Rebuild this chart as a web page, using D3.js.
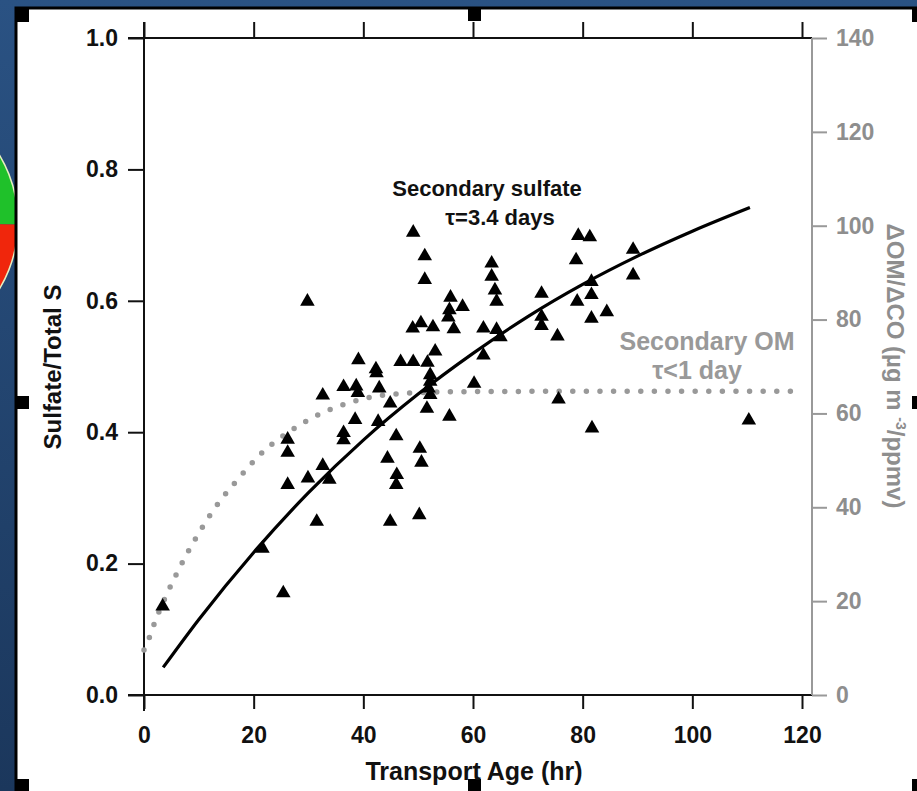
<!DOCTYPE html>
<html>
<head>
<meta charset="utf-8">
<script src="https://cdn.jsdelivr.net/npm/d3@7"></script>
<style>
  html, body { margin: 0; padding: 0; background: #25497a; }
  svg { display: block; font-family: "Liberation Sans", Arial, sans-serif; }
</style>
</head>
<body>
<div id="chart"></div>
<script>
// measured points: transport age (hr) vs sulfate / total S
var ageHr = [3.4, 21.6, 25.4, 26.2, 26.2, 26.2, 29.8, 29.9, 31.5, 32.6, 32.6, 33.8, 36.4, 36.4, 36.4,
  38.5, 38.7, 39.0, 39.1, 42.3, 42.4, 42.7, 42.9, 44.4, 44.9, 44.9, 46.0, 46.1, 46.0, 46.8,
  49.0, 49.1, 49.1, 50.2, 50.3, 50.5, 50.6, 51.2, 51.2, 51.6, 51.7, 51.9, 52.2, 52.2, 52.2,
  52.7, 53.1, 55.5, 55.7, 55.7, 55.9, 56.5, 58.1, 60.2, 61.9, 61.9, 63.4, 63.4, 64.0, 64.3,
  64.3, 65.0, 72.5, 72.5, 72.5, 75.4, 75.6, 78.8, 79.0, 79.2, 81.3, 81.6, 81.6, 81.6, 81.7,
  84.4, 89.2, 89.2, 110.3];
var sulfateFrac = [0.135, 0.223, 0.155, 0.389, 0.369, 0.320, 0.599, 0.330, 0.264, 0.456, 0.349, 0.328, 0.469, 0.399, 0.388,
  0.419, 0.470, 0.460, 0.510, 0.496, 0.490, 0.416, 0.467, 0.360, 0.444, 0.264, 0.394, 0.335, 0.320, 0.507,
  0.558, 0.704, 0.507, 0.274, 0.375, 0.566, 0.354, 0.668, 0.632, 0.436, 0.506, 0.467, 0.487, 0.477, 0.457,
  0.560, 0.523, 0.575, 0.586, 0.424, 0.605, 0.557, 0.591, 0.474, 0.558, 0.517, 0.657, 0.637, 0.616, 0.599,
  0.556, 0.545, 0.611, 0.576, 0.562, 0.546, 0.450, 0.662, 0.599, 0.699, 0.697, 0.629, 0.609, 0.573, 0.406,
  0.583, 0.678, 0.639, 0.418];

// secondary sulfate fit line (tau = 3.4 days)
var sulfFitAge = [3.5, 10, 20, 30, 40, 50, 60, 70, 80, 90, 100, 110.5];
var sulfFitFrac = [0.042, 0.115, 0.217, 0.308, 0.388, 0.458, 0.52, 0.576, 0.625, 0.668, 0.706, 0.742];

// secondary OM curve (right axis)
var omFitAge = [0, 1.1, 2, 4.25, 6.75, 9.6, 12.9, 17, 21.7, 27, 32.1, 37.2, 42.5, 48, 55, 70, 90, 118.5];
var omFitRatio = [9.6, 12.6, 15.6, 21.7, 27.7, 33.7, 39.8, 45.8, 51.8, 56.5, 59.9, 62.2, 63.7, 64.3, 64.6, 64.7, 64.7, 64.7];

// tick labels
var xTicks = [0, 20, 40, 60, 80, 100, 120];
var yTicks = [0, 0.2, 0.4, 0.6, 0.8, 1.0];
var y2Ticks = [0, 20, 40, 60, 80, 100, 120, 140];

var W = 917, H = 791;

var svg = d3.select("#chart").append("svg")
    .attr("width", W)
    .attr("height", H);

// slide background (blue frame + slightly darker left edge)
var defs = svg.append("defs");
var grad = defs.append("linearGradient").attr("id", "bg").attr("x1", 0).attr("y1", 0).attr("x2", 0).attr("y2", 1);
grad.append("stop").attr("offset", "0%").attr("stop-color", "#2a5283");
grad.append("stop").attr("offset", "100%").attr("stop-color", "#1b375c");
svg.append("rect").attr("width", W).attr("height", H).attr("fill", "url(#bg)");

// bit of the pie chart peeking in at the left
var pie = svg.append("g").attr("transform", "translate(-112,222)");
var arc = d3.arc().innerRadius(0).outerRadius(130);
pie.append("path").attr("d", arc({startAngle: 0, endAngle: Math.PI / 2 + 0.02})).attr("fill", "#1fc12a");
pie.append("path").attr("d", arc({startAngle: Math.PI / 2 + 0.02, endAngle: Math.PI})).attr("fill", "#f0260c");
pie.append("circle").attr("r", 130).attr("fill", "none").attr("stroke", "#e8f0c0").attr("stroke-width", 1.5);

// white picture panel with its black edge
svg.append("rect").attr("x", 16).attr("y", 8).attr("width", W).attr("height", H)
    .attr("fill", "#fff").attr("stroke", "#000").attr("stroke-width", 3);

// selection handles
var handles = [[16, 9], [468, 8], [16, 396], [16, 779], [468, 779], [912, 9], [912, 396], [912, 779]];
svg.selectAll(".handle").data(handles).enter().append("rect")
    .attr("class", "handle")
    .attr("x", function(d) { return d[0]; })
    .attr("y", function(d) { return d[1]; })
    .attr("width", 13).attr("height", 13)
    .attr("fill", "#000");

// scales
var x = d3.scaleLinear().domain([0, 120]).range([144, 802]);
var y = d3.scaleLinear().domain([0, 1]).range([695, 38]);
var y2 = d3.scaleLinear().domain([0, 140]).range([695, 38]);
var xEnd = 812;

var black = "#111", gray = "#999";

// bottom axis
var gx = svg.append("g").attr("transform", "translate(0,695)")
    .call(d3.axisBottom(x).tickValues(xTicks).tickSize(14).tickPadding(18).tickFormat(d3.format("d")));
gx.select(".domain").attr("d", "M128,0H" + xEnd);

// top axis, ticks only
var gt = svg.append("g").attr("transform", "translate(0,38)")
    .call(d3.axisTop(x).tickValues(xTicks).tickSize(16).tickFormat(""));
gt.select(".domain").attr("d", "M128,0H" + xEnd);

// left axis
var gy = svg.append("g").attr("transform", "translate(144,0)")
    .call(d3.axisLeft(y).tickValues(yTicks).tickSize(16).tickPadding(10).tickFormat(d3.format(".1f")));
gy.select(".domain").attr("d", "M0,22V711");

[gx, gt, gy].forEach(function(g) {
  g.selectAll("path, line").attr("stroke", black).attr("stroke-width", 2);
  g.selectAll("text").attr("fill", black).style("font-size", "23px").style("font-weight", "bold");
});

// right axis (grey, for the OM curve)
var gr = svg.append("g").attr("transform", "translate(" + xEnd + ",0)")
    .call(d3.axisRight(y2).tickValues(y2Ticks).tickSize(15).tickPadding(9));
gr.select(".domain").attr("d", "M0,38V695");
gr.selectAll("path, line").attr("stroke", gray).attr("stroke-width", 2);
gr.selectAll("text").attr("fill", "#8e8e8e").style("font-size", "23px").style("font-weight", "bold");

// axis titles
svg.append("text")
    .attr("transform", "translate(61,367) rotate(-90)")
    .attr("text-anchor", "middle")
    .style("font-size", "24px").style("font-weight", "bold").attr("fill", black)
    .text("Sulfate/Total S");

svg.append("text")
    .attr("x", 474).attr("y", 780)
    .attr("text-anchor", "middle")
    .style("font-size", "25px").style("font-weight", "bold").attr("fill", black)
    .text("Transport Age (hr)");

var rTitle = svg.append("text")
    .attr("transform", "translate(887,366) rotate(90)")
    .attr("text-anchor", "middle")
    .style("font-size", "24px").style("font-weight", "bold").attr("fill", "#8e8e8e");
rTitle.append("tspan").text("\u0394OM/\u0394CO (\u00b5g m ");
rTitle.append("tspan").attr("dy", -9).style("font-size", "14px").text("-3");
rTitle.append("tspan").attr("dy", 9).text("/ppmv)");

// secondary OM curve, dotted
var omLine = d3.line()
    .x(function(d) { return x(d[0]); })
    .y(function(d) { return y2(d[1]); })
    .curve(d3.curveMonotoneX);
svg.append("path")
    .datum(d3.zip(omFitAge, omFitRatio))
    .attr("d", omLine)
    .attr("fill", "none")
    .attr("stroke", gray)
    .attr("stroke-width", 5.5)
    .attr("stroke-linecap", "round")
    .attr("stroke-dasharray", "0 13.6");

// secondary sulfate fit
var sLine = d3.line()
    .x(function(d) { return x(d[0]); })
    .y(function(d) { return y(d[1]); })
    .curve(d3.curveMonotoneX);
svg.append("path")
    .datum(d3.zip(sulfFitAge, sulfFitFrac))
    .attr("d", sLine)
    .attr("fill", "none")
    .attr("stroke", "#000")
    .attr("stroke-width", 3.2);

// triangles
var tri = d3.symbol().type(d3.symbolTriangle).size(92);
svg.selectAll(".pt").data(d3.zip(ageHr, sulfateFrac)).enter().append("path")
    .attr("class", "pt")
    .attr("d", tri)
    .attr("transform", function(d) { return "translate(" + x(d[0]) + "," + y(d[1]) + ")"; })
    .attr("fill", "#000");

// annotations
function note(tx, ty, str, col, size) {
  svg.append("text").attr("x", tx).attr("y", ty)
      .attr("text-anchor", "middle")
      .style("font-size", size + "px").style("font-weight", "bold")
      .attr("fill", col).text(str);
}
note(487, 196, "Secondary sulfate", black, 22);
note(500, 225, "\u03c4=3.4 days", black, 22);
note(707, 350, "Secondary OM", gray, 25);
note(697, 379, "\u03c4<1 day", gray, 25);
</script>
</body>
</html>
